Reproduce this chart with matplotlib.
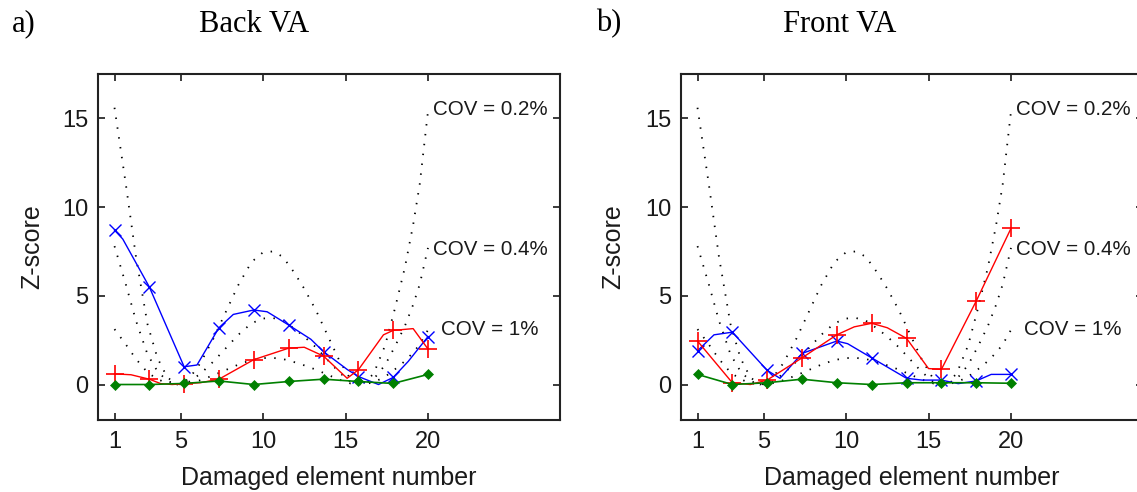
import matplotlib
matplotlib.use("Agg")
import matplotlib.pyplot as plt

# ---------------- data ----------------
marker_x = [1, 3.11, 5.22, 7.33, 9.44, 11.56, 13.67, 15.78, 17.89, 20]

# COV threshold curves (same in both panels)
cov_x = [1, 1.7, 2.3, 3.0, 3.6, 4.2, 4.8, 5.5, 6.2, 7.0, 7.8, 8.5, 9.3, 10.0, 10.6,
         11.2, 11.9, 12.5, 13.2, 13.9, 14.6, 15.3, 16.0, 16.7, 17.4, 18.0, 18.6, 19.1, 19.5, 20]
cov02_y = [15.6, 11.2, 7.2, 3.4, 1.5, 0.4, 0.0, 0.3, 1.2, 2.6, 4.2, 5.6, 6.9, 7.45, 7.5,
           7.2, 6.3, 5.4, 4.2, 2.8, 1.4, 0.3, 0.0, 0.6, 2.2, 4.3, 6.6, 9.0, 11.3, 15.4]
cov04_y = [7.8, 5.6, 3.6, 1.7, 0.75, 0.2, 0.0, 0.15, 0.6, 1.3, 2.1, 2.8, 3.45, 3.72, 3.75,
           3.6, 3.15, 2.7, 2.1, 1.4, 0.7, 0.15, 0.0, 0.3, 1.1, 2.15, 3.3, 4.5, 5.65, 7.7]
cov1_y = [3.12, 2.24, 1.44, 0.68, 0.3, 0.08, 0.0, 0.06, 0.24, 0.52, 0.84, 1.12, 1.38, 1.49, 1.5,
          1.44, 1.26, 1.08, 0.84, 0.56, 0.28, 0.06, 0.0, 0.12, 0.44, 0.86, 1.32, 1.8, 2.26, 3.08]
cov_labels = ["COV = 0.2%", "COV = 0.4%", "COV = 1%"]
cov_label_x = [20.3, 20.3, 20.8]
cov_label_y = [15.5, 7.6, 3.1]

# Panel a) Back VA
a_blue_x = [1, 1.5, 3.11, 5.22, 6.0, 7.33, 8.2, 9.44, 10.25, 11.56, 12.9, 13.67, 15.1, 15.78, 17.0, 17.89, 18.8, 20]
a_blue_y = [8.7, 8.2, 5.5, 1.0, 1.1, 3.2, 3.95, 4.2, 4.1, 3.35, 2.55, 1.85, 0.85, 0.45, 0.0, 0.4, 1.3, 2.7]
a_blue_m = [8.7, 5.5, 1.0, 3.2, 4.2, 3.35, 1.85, 0.45, 0.4, 2.7]

a_red_x = [1, 2.0, 3.11, 3.8, 4.5, 5.22, 6.2, 7.33, 9.44, 11.56, 12.5, 13.67, 15.1, 15.78, 17.3, 17.89, 19.1, 20]
a_red_y = [0.6, 0.55, 0.3, 0.05, 0.0, 0.05, 0.1, 0.3, 1.4, 2.05, 2.1, 1.6, 0.35, 0.83, 2.8, 3.05, 3.15, 2.0]
a_red_m = [0.6, 0.3, 0.05, 0.3, 1.4, 2.05, 1.6, 0.83, 3.05, 2.0]

a_green_m = [0.0, 0.0, 0.06, 0.2, 0.0, 0.17, 0.3, 0.17, 0.06, 0.57]

# Panel b) Front VA
b_blue_x = [1, 2.0, 3.11, 5.22, 6.0, 7.33, 9.44, 10.1, 11.56, 13.67, 14.6, 15.78, 16.8, 17.89, 18.8, 20]
b_blue_y = [1.9, 2.8, 2.95, 0.8, 0.35, 1.75, 2.45, 2.3, 1.5, 0.35, 0.25, 0.25, 0.05, 0.2, 0.57, 0.57]
b_blue_m = [1.9, 2.95, 0.8, 1.75, 2.45, 1.5, 0.35, 0.25, 0.2, 0.57]

b_red_x = [1, 3.11, 4.2, 5.22, 7.33, 9.44, 10.5, 11.56, 12.5, 13.67, 15.0, 15.78, 17.89, 20]
b_red_y = [2.45, 0.1, 0.0, 0.25, 1.5, 2.8, 3.25, 3.45, 3.2, 2.6, 0.9, 0.85, 4.7, 8.8]
b_red_m = [2.45, 0.1, 0.25, 1.5, 2.8, 3.45, 2.6, 0.85, 4.7, 8.8]

b_green_m = [0.57, 0.0, 0.1, 0.3, 0.1, 0.0, 0.1, 0.1, 0.1, 0.07]

x_ticks = [1, 5, 10, 15, 20]
y_ticks = [0, 5, 10, 15]

panel_letters = ["a)", "b)"]
panel_titles = ["Back VA", "Front VA"]

# ---------------- drawing ----------------
W, H = 1137, 492
fig = plt.figure(figsize=(W / 100, H / 100), dpi=100)
plt.rcParams['font.family'] = ['Liberation Sans', 'DejaVu Sans']

blue = (0, 0, 1)
red = (1, 0, 0)
green = (0, 0.5, 0)
txt = '#1a1a1a'

def px(x0, y0, x1, y1):
    return [x0 / W, 1 - y1 / H, (x1 - x0) / W, (y1 - y0) / H]

panels = [
    dict(rect=px(98, 74, 560, 420), blue=(a_blue_x, a_blue_y, a_blue_m),
         red=(a_red_x, a_red_y, a_red_m), green=a_green_m, xl=329, yl=32),
    dict(rect=px(681, 74, 1143, 420), blue=(b_blue_x, b_blue_y, b_blue_m),
         red=(b_red_x, b_red_y, b_red_m), green=b_green_m, xl=912, yl=613),
]

dot_style = (0, (0.8, 4.7))
for i, p in enumerate(panels):
    ax = fig.add_axes(p["rect"])
    for cy in (cov02_y, cov04_y, cov1_y):
        ax.plot(cov_x, cy, color='k', lw=1.3, linestyle=dot_style)
    for lab, lx, ly in zip(cov_labels, cov_label_x, cov_label_y):
        ax.text(lx, ly, lab, fontsize=14.8, va='center', ha='left', color=txt)

    bx, by, bm = p["blue"]
    ax.plot(bx, by, color=blue, lw=1.0)
    ax.plot(marker_x, bm, linestyle='none', marker='x', ms=8, mew=1.0, color=blue)

    rx, ry, rm = p["red"]
    ax.plot(rx, ry, color=red, lw=1.0)
    ax.plot(marker_x, rm, linestyle='none', marker='+', ms=13, mew=1.2, color=red)

    ax.plot(marker_x, p["green"], color=green, lw=1.2, marker='D', ms=5, mew=0.5)

    ax.set_xlim(0, 28)
    ax.set_ylim(-2, 17.5)
    ax.set_xticks(x_ticks)
    ax.set_yticks(y_ticks)
    ax.tick_params(direction='in', length=5, width=1.2, top=True, right=True,
                   labelsize=17, colors=txt)
    ax.tick_params(axis='y', pad=7)
    ax.tick_params(axis='x', pad=8)
    for s in ax.spines.values():
        s.set_linewidth(1.5)
        s.set_color('#222')

    fig.text(p["xl"] / W, 1 - 478 / H, "Damaged element number",
             ha='center', va='center', fontsize=18, color=txt)
    fig.text(p["yl"] / W, 1 - 247 / H, "Z-score", rotation=90, ha='center', va='center',
             fontsize=18, color=txt)

# panel titles
fig.text(12 / W, 1 - 24 / H, panel_letters[0], family='Liberation Serif', fontsize=22,
         ha='left', va='center')
fig.text(254 / W, 1 - 24 / H, panel_titles[0], family='Liberation Serif', fontsize=22,
         ha='center', va='center')
fig.text(596 / W, 1 - 24 / H, panel_letters[1], family='Liberation Serif', fontsize=22,
         ha='left', va='center')
fig.text(840 / W, 1 - 24 / H, panel_titles[1], family='Liberation Serif', fontsize=22,
         ha='center', va='center')

fig.savefig("out.png", dpi=100)
